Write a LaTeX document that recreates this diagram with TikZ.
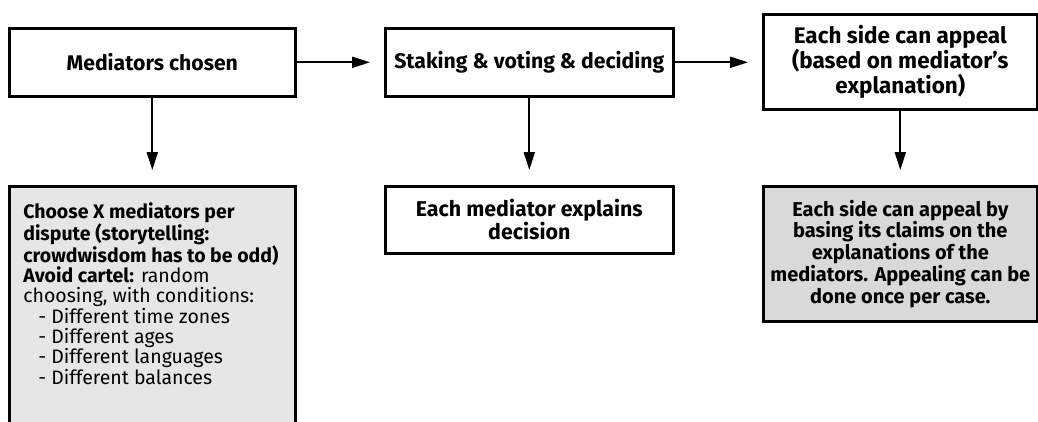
\documentclass[tikz,border=0pt]{standalone}
\usepackage{fontspec}
\setmainfont{Fira Sans}
\usetikzlibrary{arrows.meta}
\definecolor{graya}{HTML}{E6E6E6}
\definecolor{grayb}{HTML}{D9D9D9}
\tikzset{
  box/.style={draw=black, line width=2.6pt, rectangle, anchor=north west, inner sep=0pt, align=center, font=\bfseries},
  arr/.style={draw=black, line width=2pt, -{Triangle[length=18pt,width=11pt]}},
}
\begin{document}
\begin{tikzpicture}[x=1pt,y=-1pt]
\useasboundingbox (0,0) rectangle (1038,421);
\begin{scope}
\clip (0,0) rectangle (1038,421);
\node[box, minimum width=286pt, minimum height=68pt, font=\fontsize{21.2}{25}\bfseries] (A) at (8,27) {Mediators chosen};
\node[box, minimum width=288pt, minimum height=68pt, font=\fontsize{21.2}{25}\bfseries] (B) at (384,27) {Staking \& voting \& deciding};
\node[box, minimum width=274pt, minimum height=95pt, font=\fontsize{22.5}{25}\bfseries] (C) at (762,13) {Each side can appeal\\(based on mediator's\\explanation)};
\node[box, fill=graya, minimum width=286pt, minimum height=270pt, inner xsep=14pt, align=left, font=\fontsize{19.5}{20.3}\selectfont] (D) at (8,185)
  {\parbox[t][262pt][t]{258pt}{\vspace*{12pt}\textbf{Choose X mediators per}\\
   \textbf{dispute (storytelling:}\\
   \textbf{crowdwisdom has to be odd)}\\
   \textbf{Avoid cartel:} random\\
   choosing, with conditions:\\
   \hspace*{15pt}- Different time zones\\
   \hspace*{15pt}- Different ages\\
   \hspace*{15pt}- Different languages\\
   \hspace*{15pt}- Different balances}};
\node[box, minimum width=288pt, minimum height=67pt, font=\fontsize{21.4}{23}\bfseries] (E) at (384,185) {Each mediator explains\\decision};
\node[box, fill=grayb, minimum width=274pt, minimum height=135pt, font=\fontsize{20}{21.7}\bfseries] (F) at (762,185) {Each side can appeal by\\basing its claims on the\\explanations of the\\mediators. Appealing can be\\done once per case.};
\end{scope}
\draw[arr, shorten >=14pt] (A.east) -- (B.west);
\draw[arr, shorten >=14pt] (B.east) -- (B.east -| C.west);
\draw[arr, shorten >=15pt] (A.south) -- (A.south |- D.north);
\draw[arr, shorten >=15pt] (B.south) -- (E.north);
\draw[arr, shorten >=15pt] (C.south) -- (F.north);
\end{tikzpicture}
\end{document}
